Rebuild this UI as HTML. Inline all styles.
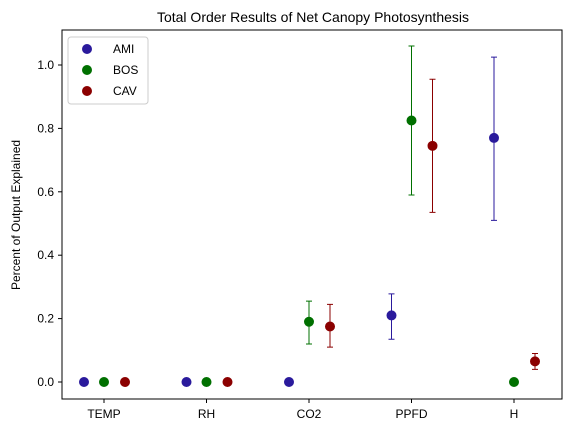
<!DOCTYPE html>
<html><head><meta charset="utf-8"><style>
body{margin:0;background:#fff;}
svg{display:block;font-family:"Liberation Sans","DejaVu Sans",sans-serif;}
</style></head><body>
<svg id="chart" width="567" height="433">
<text x="313" y="22" text-anchor="middle" font-size="14">Total Order Results of Net Canopy Photosynthesis</text>
<text transform="translate(20,215) rotate(-90)" text-anchor="middle" font-size="12">Percent of Output Explained</text>
<g id="plot"></g>
<rect x="62" y="30" width="500" height="369" fill="none" stroke="#000" stroke-width="1"/>
<g>
<rect x="68" y="37" width="80" height="67" rx="3" fill="#fff" stroke="#ccc"/>
<g><circle cx="87" cy="49" r="5" fill="#2a1a9c"/><text x="113" y="53" font-size="12">AMI</text></g>
<g><circle cx="87" cy="70" r="5" fill="#007000"/><text x="113" y="74" font-size="12">BOS</text></g>
<g><circle cx="87" cy="91" r="5" fill="#8b0000"/><text x="113" y="95" font-size="12">CAV</text></g>
</g>
</svg>
<script>
const categories=["TEMP","RH","CO2","PPFD","H"];
const seriesNames=["AMI","BOS","CAV"];
const amiVals=[0,0,0,0.21,0.77];
const amiLo=[0,0,0,0.135,0.51];
const amiHi=[0,0,0,0.278,1.025];
const bosVals=[0,0,0.19,0.825,0];
const bosLo=[0,0,0.12,0.59,0];
const bosHi=[0,0,0.255,1.06,0];
const cavVals=[0,0,0.175,0.745,0.065];
const cavLo=[0,0,0.11,0.535,0.04];
const cavHi=[0,0,0.245,0.955,0.09];
const yTicks=[0,0.2,0.4,0.6,0.8,1.0];
const yTickLabels=["0.0","0.2","0.4","0.6","0.8","1.0"];

const NS="http://www.w3.org/2000/svg";
const g=document.getElementById('plot');
function y(v){return 382-v*317;}
function xc(i){return 104+i*102.5;}
function mk(t,a){const e=document.createElementNS(NS,t);for(const k in a)e.setAttribute(k,a[k]);g.appendChild(e);return e;}
yTicks.forEach((v,i)=>{
  const l=mk('line',{x1:58,x2:62,y1:y(v),y2:y(v),stroke:'#000'});
  
  
  const t=mk('text',{x:54,y:y(v)+4,'text-anchor':'end','font-size':12});
  t.textContent=yTickLabels[i];
  
  
});
categories.forEach((c,i)=>{
  const l=mk('line',{x1:xc(i),x2:xc(i),y1:399,y2:403,stroke:'#000'});
  
  
  const t=mk('text',{x:xc(i),y:418,'text-anchor':'middle','font-size':12});
  t.textContent=c;
  
  
});
const series=[[amiVals,amiLo,amiHi,'#2a1a9c',-20],[bosVals,bosLo,bosHi,'#007000',0],[cavVals,cavLo,cavHi,'#8b0000',21]];
series.forEach((s,si)=>{
  s[0].forEach((v,i)=>{
    const x=xc(i)+s[4];
    if(s[2][i]>0){
      const e=mk('path',{d:`M${x},${y(s[1][i])}V${y(s[2][i])}M${x-3},${y(s[1][i])}h6M${x-3},${y(s[2][i])}h6`,stroke:s[3],'stroke-width':1,fill:'none'});
      
      
    }
    const p=mk('circle',{cx:x,cy:y(v),r:5,fill:s[3]});
    
    
  });
});
</script>
</body></html>
